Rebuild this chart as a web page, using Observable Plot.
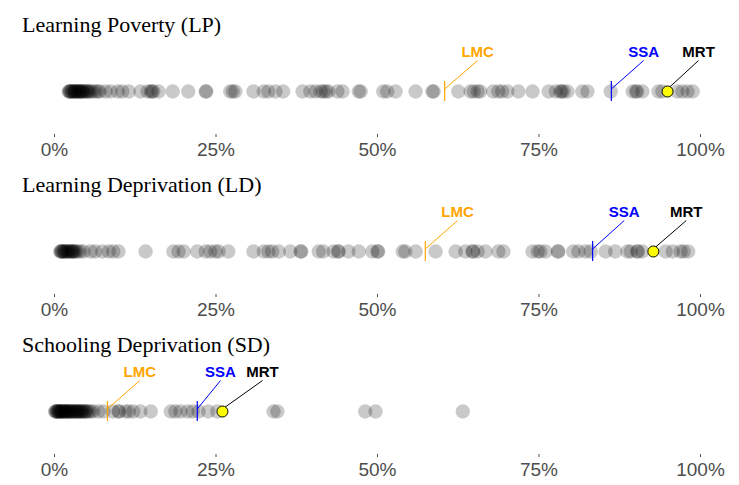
<!DOCTYPE html>
<html>
<head>
<meta charset="utf-8">
<script src="https://cdn.jsdelivr.net/npm/d3@7"></script>
<script src="https://cdn.jsdelivr.net/npm/@observablehq/plot@0.6"></script>
<style>
  html, body { margin: 0; padding: 0; background: white; }
  #root { position: relative; width: 739px; height: 485px; background: white; overflow: hidden; }
  .title { position: absolute; left: 22px; font-family: "Liberation Serif", "Times New Roman", serif; font-size: 22px; line-height: 22px; color: black; white-space: nowrap; }
  .panel { position: absolute; left: 0; }
</style>
</head>
<body>
<div id="root"></div>
<script>
const xTicks = [0, 25, 50, 75, 100];
const titles = ["Learning Poverty (LP)", "Learning Deprivation (LD)", "Schooling Deprivation (SD)"];
const groups = ["LMC", "SSA", "MRT"];
const groupColors = ["#FFA500", "#0000FF", "#000000"];

// Country values (%)
const lpValues = [2.2, 2.3, 2.4, 2.5, 2.7, 2.8, 3.0, 3.1, 3.2, 3.3, 3.5, 3.6, 3.7, 3.9, 4.0, 4.1, 4.3, 4.4, 4.5, 4.8,
  5.0, 5.1, 5.3, 5.6, 5.9, 6.3, 6.7, 7.0, 7.9, 8.7, 9.8, 10.5, 11.5, 13.3, 14.4, 14.9, 15.1, 15.3, 16.1, 18.3, 20.7,
  23.4, 23.5, 27.2, 27.6, 28.0, 30.8, 32.4, 33.1, 34.2, 35.4, 38.4, 39.6, 40.4, 41.2, 41.6, 42.0, 42.4, 43.8, 44.6,
  47.1, 47.4, 50.9, 51.5, 52.8, 55.9, 58.5, 58.7, 62.5, 64.4, 64.9, 65.5, 65.9, 67.9, 68.7, 69.3, 70.1, 71.8, 74.0,
  76.5, 77.6, 78.3, 78.5, 78.8, 79.4, 81.7, 82.5, 86.1, 89.5, 90.0, 90.2, 91.0, 93.5, 94.1, 96.4, 97.2, 98.0, 98.8];
const ldValues = [0.9, 1.0, 1.1, 1.2, 1.4, 1.5, 1.7, 1.8, 2.0, 2.2, 2.3, 2.5, 2.7, 2.8, 2.9, 3.1, 3.3, 3.6, 4.0, 4.5,
  5.6, 6.3, 7.4, 8.4, 9.1, 9.9, 14.1, 18.4, 19.2, 20.0, 22.1, 23.4, 24.1, 24.9, 25.4, 26.9, 30.8, 32.4, 33.1, 33.7,
  34.7, 36.5, 38.1, 38.2, 40.9, 41.6, 43.2, 43.9, 44.0, 45.5, 47.1, 49.2, 50.0, 50.1, 53.9, 54.3, 55.9, 59.0, 62.1,
  63.6, 64.7, 64.8, 65.5, 66.7, 68.7, 69.5, 74.0, 74.8, 75.2, 76.0, 77.9, 78.0, 80.3, 81.1, 82.2, 83.0, 85.3, 86.8,
  88.7, 89.2, 90.2, 90.3, 91.0, 94.6, 95.7, 96.9, 97.4, 98.1];
const sdValues = [0.1, 0.2, 0.3, 0.4, 0.5, 0.6, 0.7, 0.8, 0.9, 1.0, 1.1, 1.2, 1.3, 1.4, 1.6, 1.7, 1.8, 1.9, 2.0, 2.1,
  2.2, 2.4, 2.5, 2.6, 2.8, 2.9, 3.0, 3.2, 3.3, 3.5, 3.6, 3.7, 3.9, 4.0, 4.2, 4.3, 4.5, 4.7, 4.8, 5.0, 5.3, 5.6, 6.0,
  6.8, 7.6, 9.0, 9.9, 10.0, 11.0, 11.5, 12.2, 13.3, 14.9, 18.0, 18.7, 19.5, 20.6, 21.4, 22.3, 23.8, 25.2, 33.9, 34.5,
  48.1, 49.7, 63.2];

// Group markers (LMC, SSA, MRT) and their label positions (%)
const lpMarkers = [60.4, 86.2, 94.9];
const ldMarkers = [57.4, 83.3, 92.7];
const sdMarkers = [8.2, 22.1, 26.0];
const lpLabelX = [65.5, 91.2, 99.7];
const ldLabelX = [62.4, 88.2, 97.8];
const sdLabelX = [13.2, 25.7, 32.2];

const panelData = [
  {title: titles[0], values: lpValues, markers: lpMarkers, labelX: lpLabelX},
  {title: titles[1], values: ldValues, markers: ldMarkers, labelX: ldLabelX},
  {title: titles[2], values: sdValues, markers: sdMarkers, labelX: sdLabelX}
];

const root = document.getElementById("root");
panelData.forEach((p, i) => {
  const top = i * 160;
  const t = document.createElement("div");
  t.className = "title";
  t.style.top = (top + 14) + "px";
  t.textContent = p.title;
  root.appendChild(t);

  const markerData = groups.map((g, k) => ({group: g, x: p.markers[k], lx: p.labelX[k], color: groupColors[k]}));
  const chart = Plot.plot({
    width: 739, height: 120,
    marginLeft: 54, marginRight: 39, marginTop: 0, marginBottom: 26,
    style: {fontFamily: "'Liberation Sans', Arial, sans-serif", fontSize: "19px", background: "transparent", overflow: "visible"},
    x: {domain: [0, 100], axis: null},
    y: {domain: [0, 1], range: [51, 20], axis: null},
    color: {type: "identity"},
    marks: [
      Plot.axisX({anchor: "bottom", ticks: xTicks, tickFormat: d => d + "%", tickSize: 3, tickPadding: 5, fontSize: 19, color: "#4d4d4d"}),
      Plot.dot(p.values, {x: d => d, y: () => 0, r: 7.2, fill: "black", fillOpacity: 0.21}),
      Plot.ruleX(markerData.filter(d => d.group !== "MRT"), {x: "x", y1: () => -0.32, y2: () => 0.32, stroke: "color", strokeWidth: 1.2}),
      Plot.link(markerData, {x1: "x", y1: () => 0.08, x2: "lx", y2: () => 1, stroke: "color", strokeWidth: 1}),
      Plot.dot(markerData.filter(d => d.group === "MRT"), {x: "x", y: () => 0, r: 5.5, fill: "yellow", stroke: "black", strokeWidth: 1}),
      Plot.text(markerData, {x: "lx", y: () => 1, text: "group", fill: "color", dy: -8, fontWeight: "bold", fontSize: 15, fontFamily: "'Liberation Sans', Arial, sans-serif"})
    ]
  });
  chart.classList.add("panel");
  chart.style.top = (top + 40) + "px";
  root.appendChild(chart);
});
</script>
</body>
</html>
